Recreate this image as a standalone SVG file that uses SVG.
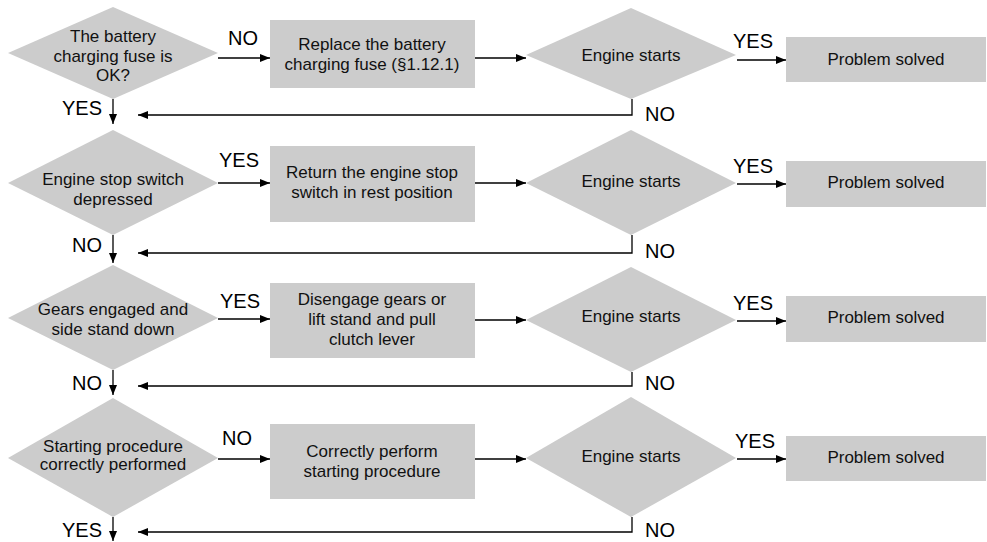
<svg xmlns="http://www.w3.org/2000/svg" width="987" height="542" viewBox="0 0 987 542">
<style>
  .shape { fill: #cccccc; stroke: none; }
  .t { font-family: "Liberation Sans", Arial, Helvetica, sans-serif; font-size: 17px; fill: #111; text-anchor: middle; }
  .lbl { font-family: "Liberation Sans", Arial, Helvetica, sans-serif; font-size: 20px; fill: #000; }
  .c { fill: none; stroke: #000; stroke-width: 1.3; }
</style>
<defs>
  <marker id="arr" markerWidth="10" markerHeight="8" refX="10" refY="4" orient="auto" markerUnits="userSpaceOnUse">
    <path d="M0,0 L10,4 L0,8 Z" fill="#000"/>
  </marker>
</defs>
<rect width="987" height="542" fill="#fff"/>

<g id="connectors">
  <path class="c" d="M218,58 H270" marker-end="url(#arr)"/>
  <path class="c" d="M475,58 H526" marker-end="url(#arr)"/>
  <path class="c" d="M737,60 H786" marker-end="url(#arr)"/>
  <path class="c" d="M632,99 V115 H138" marker-end="url(#arr)"/>
  <path class="c" d="M113,99 V124" marker-end="url(#arr)"/>

  <path class="c" d="M218,183 H270" marker-end="url(#arr)"/>
  <path class="c" d="M475,183 H526" marker-end="url(#arr)"/>
  <path class="c" d="M737,184 H786" marker-end="url(#arr)"/>
  <path class="c" d="M632,235 V253 H138" marker-end="url(#arr)"/>
  <path class="c" d="M113,235 V263" marker-end="url(#arr)"/>

  <path class="c" d="M218,319 H270" marker-end="url(#arr)"/>
  <path class="c" d="M475,320 H526" marker-end="url(#arr)"/>
  <path class="c" d="M737,321 H786" marker-end="url(#arr)"/>
  <path class="c" d="M632,372 V386 H138" marker-end="url(#arr)"/>
  <path class="c" d="M113,370 V395" marker-end="url(#arr)"/>

  <path class="c" d="M218,459 H270" marker-end="url(#arr)"/>
  <path class="c" d="M475,459 H526" marker-end="url(#arr)"/>
  <path class="c" d="M737,459 H786" marker-end="url(#arr)"/>
  <path class="c" d="M632,517 V532 H138" marker-end="url(#arr)"/>
  <path class="c" d="M113,517 V541" marker-end="url(#arr)"/>

  <text class="lbl" x="228" y="45">NO</text>
  <text class="lbl" x="62" y="115">YES</text>
  <text class="lbl" x="733" y="48">YES</text>
  <text class="lbl" x="645" y="121">NO</text>

  <text class="lbl" x="219" y="167">YES</text>
  <text class="lbl" x="72" y="252">NO</text>
  <text class="lbl" x="733" y="173">YES</text>
  <text class="lbl" x="645" y="258">NO</text>

  <text class="lbl" x="220" y="308">YES</text>
  <text class="lbl" x="72" y="390">NO</text>
  <text class="lbl" x="733" y="310">YES</text>
  <text class="lbl" x="645" y="390">NO</text>

  <text class="lbl" x="222" y="445">NO</text>
  <text class="lbl" x="62" y="537">YES</text>
  <text class="lbl" x="735" y="448">YES</text>
  <text class="lbl" x="645" y="537">NO</text>
</g>

<g id="d1">
  <polygon class="shape" points="113,7 218,53 113,99 8,53"/>
  <text class="t" x="113" y="42">The battery</text>
  <text class="t" x="113" y="62">charging fuse is</text>
  <text class="t" x="113" y="81">OK?</text>
</g>
<g id="b1">
  <rect class="shape" x="270" y="20" width="205" height="68"/>
  <text class="t" x="372" y="50">Replace the battery</text>
  <text class="t" x="372" y="70">charging fuse (§1.12.1)</text>
</g>
<g id="e1">
  <polygon class="shape" points="631,8 736,55 631,99 526,55"/>
  <text class="t" x="631" y="61">Engine starts</text>
</g>
<g id="p1">
  <rect class="shape" x="786" y="37" width="200" height="45"/>
  <text class="t" x="886" y="65">Problem solved</text>
</g>

<g id="d2">
  <polygon class="shape" points="113,130 218,183 113,235 8,183"/>
  <text class="t" x="113" y="185">Engine stop switch</text>
  <text class="t" x="113" y="205">depressed</text>
</g>
<g id="b2">
  <rect class="shape" x="270" y="146" width="205" height="76"/>
  <text class="t" x="372" y="178">Return the engine stop</text>
  <text class="t" x="372" y="198">switch in rest position</text>
</g>
<g id="e2">
  <polygon class="shape" points="631,130 736,183 631,235 526,183"/>
  <text class="t" x="631" y="187">Engine starts</text>
</g>
<g id="p2">
  <rect class="shape" x="786" y="161" width="200" height="46"/>
  <text class="t" x="886" y="188">Problem solved</text>
</g>

<g id="d3">
  <polygon class="shape" points="113,265 218,318 113,370 8,318"/>
  <text class="t" x="113" y="315">Gears engaged and</text>
  <text class="t" x="113" y="335">side stand down</text>
</g>
<g id="b3">
  <rect class="shape" x="270" y="283" width="205" height="75"/>
  <text class="t" x="372" y="305">Disengage gears or</text>
  <text class="t" x="372" y="325">lift stand and pull</text>
  <text class="t" x="372" y="345">clutch lever</text>
</g>
<g id="e3">
  <polygon class="shape" points="631,267 736,320 631,372 526,320"/>
  <text class="t" x="631" y="322">Engine starts</text>
</g>
<g id="p3">
  <rect class="shape" x="786" y="296" width="200" height="46"/>
  <text class="t" x="886" y="323">Problem solved</text>
</g>

<g id="d4">
  <polygon class="shape" points="113,398 218,458 113,517 8,458"/>
  <text class="t" x="113" y="452">Starting procedure</text>
  <text class="t" x="113" y="470">correctly performed</text>
</g>
<g id="b4">
  <rect class="shape" x="270" y="424" width="205" height="75"/>
  <text class="t" x="372" y="457">Correctly perform</text>
  <text class="t" x="372" y="477">starting procedure</text>
</g>
<g id="e4">
  <polygon class="shape" points="631,397 736,458 631,517 526,458"/>
  <text class="t" x="631" y="462">Engine starts</text>
</g>
<g id="p4">
  <rect class="shape" x="786" y="436" width="200" height="45"/>
  <text class="t" x="886" y="463">Problem solved</text>
</g>
</svg>
